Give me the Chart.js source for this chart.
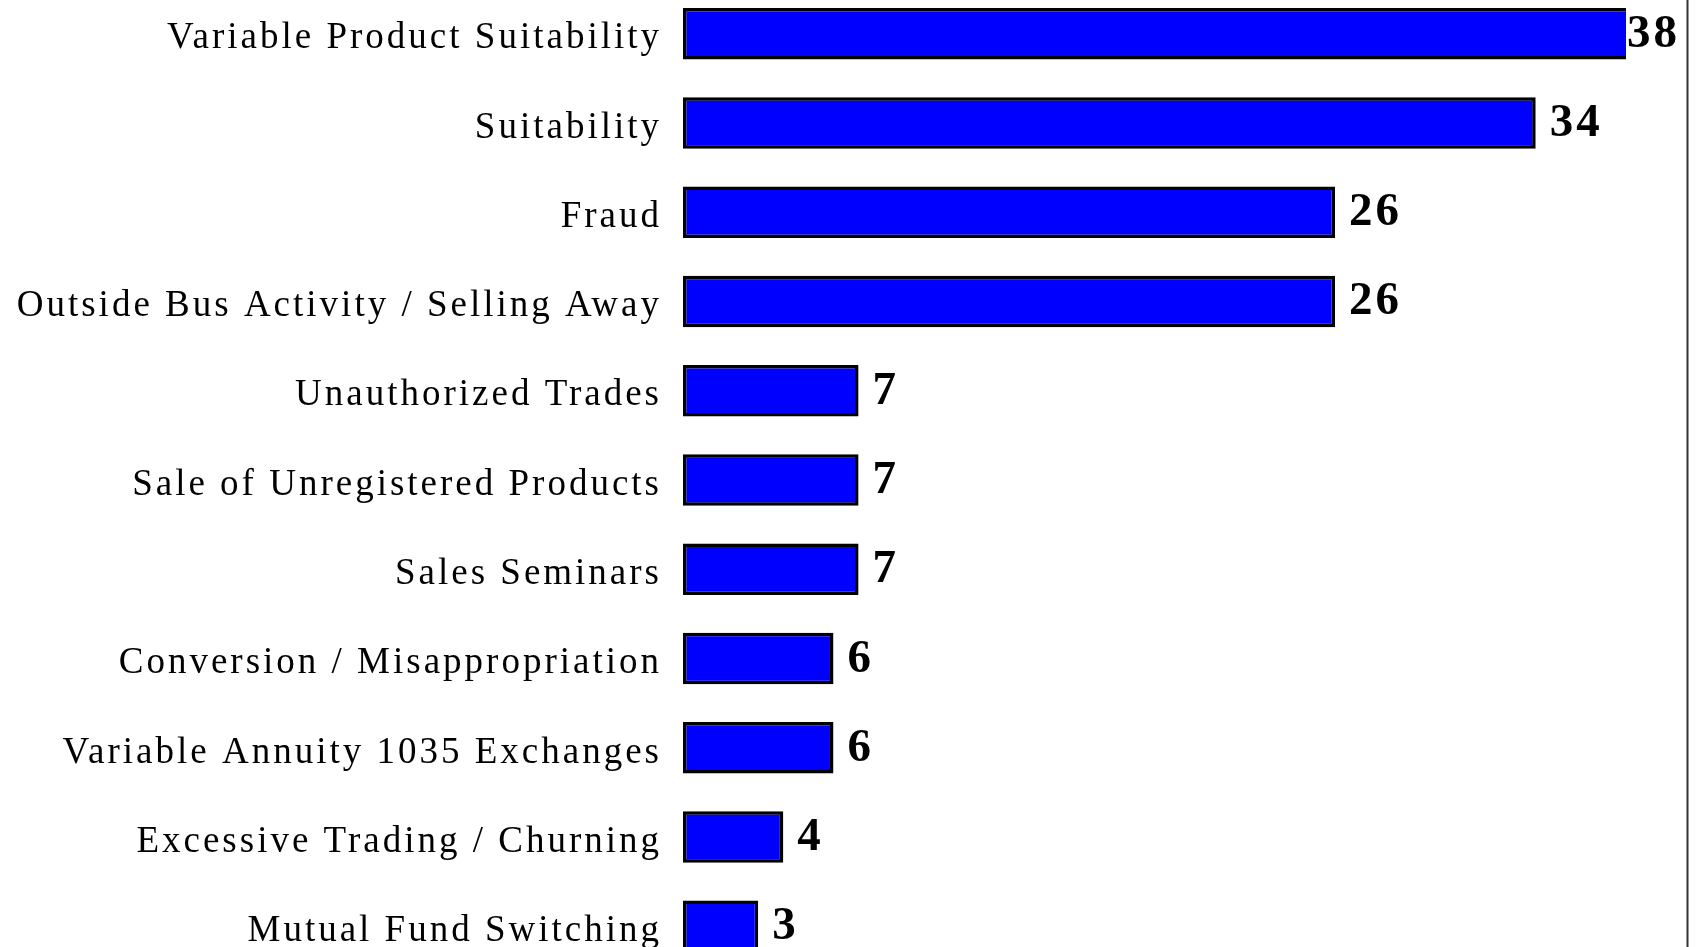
<!DOCTYPE html>
<html>
<head>
<meta charset="utf-8">
<script src="https://cdn.jsdelivr.net/npm/chart.js@4.4.1/dist/chart.umd.min.js"></script>
<style>
  html, body { margin: 0; padding: 0; background: #fff; overflow: hidden; width: 1696px; height: 947px; }
  #wrap { position: absolute; left: 0; top: -11px; width: 1696px; height: 982px; }
</style>
</head>
<body>
<div id="wrap"><canvas id="c" width="1696" height="982"></canvas></div>
<script>
const categories = [
  "Variable Product Suitability",
  "Suitability",
  "Fraud",
  "Outside Bus Activity / Selling Away",
  "Unauthorized Trades",
  "Sale of Unregistered Products",
  "Sales Seminars",
  "Conversion / Misappropriation",
  "Variable Annuity 1035 Exchanges",
  "Excessive Trading / Churning",
  "Mutual Fund Switching"
];
const values = [38, 34, 26, 26, 7, 7, 7, 6, 6, 4, 3];

const LABEL_SPACING = '3px';

const spacingPlugin = {
  id: 'spacing',
  beforeUpdate(chart) { chart.ctx.letterSpacing = LABEL_SPACING; },
  beforeLayout(chart) { chart.ctx.letterSpacing = LABEL_SPACING; },
  beforeDraw(chart) { chart.ctx.letterSpacing = LABEL_SPACING; }
};

const valueLabels = {
  id: 'valueLabels',
  afterDatasetsDraw(chart) {
    const ctx = chart.ctx;
    const meta = chart.getDatasetMeta(0);
    ctx.save();
    ctx.letterSpacing = '3px';
    ctx.font = 'bold 47px "Liberation Serif", "Times New Roman", serif';
    ctx.fillStyle = '#000';
    ctx.textAlign = 'left';
    ctx.textBaseline = 'alphabetic';
    meta.data.forEach((bar, i) => {
      const txt = String(values[i]);
      const x = Math.min(bar.x + 14, chart.chartArea.right + 1);
      ctx.fillText(txt, x, bar.y + 13);
    });
    ctx.restore();
    // right frame line
    ctx.save();
    ctx.strokeStyle = '#333';
    ctx.lineWidth = 2;
    ctx.beginPath();
    ctx.moveTo(1687.5, 0);
    ctx.lineTo(1687.5, chart.height);
    ctx.stroke();
    ctx.restore();
  }
};

new Chart(document.getElementById('c'), {
  type: 'bar',
  data: {
    labels: categories,
    datasets: [{
      data: values,
      backgroundColor: '#0000FF',
      borderColor: '#000000',
      borderWidth: 3.5,
      borderSkipped: false,
      barPercentage: 0.577,
      categoryPercentage: 1.0,
      clip: 0
    }]
  },
  options: {
    indexAxis: 'y',
    responsive: false,
    devicePixelRatio: 1,
    animation: false,
    events: [],
    layout: { padding: { left: 0, right: 70, top: 0, bottom: 0 } },
    plugins: {
      legend: { display: false },
      tooltip: { enabled: false },
      title: { display: false }
    },
    scales: {
      x: {
        display: false,
        min: 0,
        max: 37.6
      },
      y: {
        offset: true,
        grid: { display: false, drawTicks: false },
        border: { display: false },
        ticks: {
          color: '#000',
          padding: 21,
          labelOffset: 5,
          autoSkip: false,
          font: { family: '"Liberation Serif", "Times New Roman", serif', size: 37 }
        },
        afterFit(scale) {
          scale.width = 683;
          scale.paddingTop = 0;
          scale.paddingBottom = 0;
        }
      }
    }
  },
  plugins: [spacingPlugin, valueLabels]
});
</script>
</body>
</html>
